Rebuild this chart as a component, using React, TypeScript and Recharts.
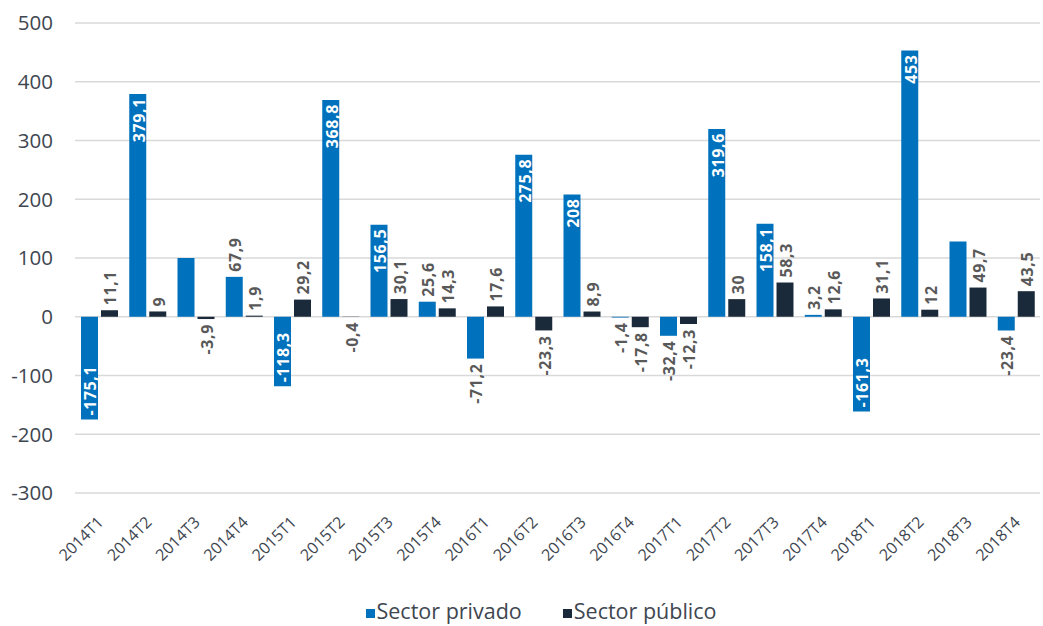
import React from 'react';
import { BarChart, Bar, XAxis, YAxis, CartesianGrid, Legend, LabelList } from 'recharts';

const categories = ['2014T1','2014T2','2014T3','2014T4','2015T1','2015T2','2015T3','2015T4','2016T1','2016T2','2016T3','2016T4','2017T1','2017T2','2017T3','2017T4','2018T1','2018T2','2018T3','2018T4'];
const privado = [-175.1, 379.1, 100, 67.9, -118.3, 368.8, 156.5, 25.6, -71.2, 275.8, 208, -1.4, -32.4, 319.6, 158.1, 3.2, -161.3, 453, 128, -23.4];
const publico = [11.1, 9, -3.9, 1.9, 29.2, -0.4, 30.1, 14.3, 17.6, -23.3, 8.9, -17.8, -12.3, 30, 58.3, 12.6, 31.1, 12, 49.7, 43.5];
const privadoLabels = ['-175,1','379,1','','67,9','-118,3','368,8','156,5','25,6','-71,2','275,8','208','-1,4','-32,4','319,6','158,1','3,2','-161,3','453','','-23,4'];
const publicoLabels = ['11,1','9','-3,9','1,9','29,2','-0,4','30,1','14,3','17,6','-23,3','8,9','-17,8','-12,3','30','58,3','12,6','31,1','12','49,7','43,5'];
const yTicks = [-300, -200, -100, 0, 100, 200, 300, 400, 500];

const data = categories.map((c, i) => ({ cat: c, privado: privado[i], publico: publico[i] }));

const BLUE = '#0071BC';
const NAVY = '#1B2A3A';
const LABEL_GRAY = '#595959';
const TICK = '#3E4650';
const FONT = '"Open Sans", sans-serif';

const makeLabel = (labels: string[], values: number[]) => (props: any) => {
  const { x, y, width, height, index } = props;
  const text = labels[index];
  if (!text) return null;
  const v = values[index];
  const top = Math.min(y, y + height);
  const bottom = Math.max(y, y + height);
  const cx = x + width / 2 + 1;
  const inside = Math.abs(v) > 100;
  let ay: number;
  let anchor: string;
  if (v >= 0) {
    if (inside) { ay = top + 4; anchor = 'end'; } else { ay = top - 5; anchor = 'start'; }
  } else {
    if (inside) { ay = bottom - 4; anchor = 'start'; } else { ay = bottom + 5; anchor = 'end'; }
  }
  return (
    <text
      x={cx}
      y={ay}
      transform={`rotate(-90 ${cx} ${ay})`}
      textAnchor={anchor as any}
      dominantBaseline="central"
      fill={inside ? '#FFFFFF' : LABEL_GRAY}
      fontSize={16}
      fontWeight={700}
      letterSpacing={0.6}
      fontFamily={FONT}
    >
      {text}
    </text>
  );
};

const XTick = (props: any) => {
  const { x, y, payload } = props;
  const tx = x + 1;
  const ty = y + 18;
  return (
    <text
      x={tx}
      y={ty}
      transform={`rotate(-45 ${tx} ${ty})`}
      textAnchor="end"
      dominantBaseline="central"
      fill={TICK}
      fontSize={16}
      fontFamily={FONT}
    >
      {payload.value}
    </text>
  );
};

const LegendContent = () => (
  <div style={{ display: 'flex', justifyContent: 'center', fontFamily: FONT, fontSize: 21.5, color: TICK, paddingLeft: 42 }}>
    <span style={{ display: 'flex', alignItems: 'center', marginRight: 41 }}>
      <span style={{ width: 9, height: 9, background: BLUE, display: 'inline-block', marginRight: 2, marginTop: 5 }} />
      Sector privado
    </span>
    <span style={{ display: 'flex', alignItems: 'center' }}>
      <span style={{ width: 9, height: 9, background: NAVY, display: 'inline-block', marginRight: 2, marginTop: 5 }} />
      Sector público
    </span>
  </div>
);

export default function App() {
  return (
    <div style={{ position: 'absolute', left: 0, top: 0, background: '#fff' }}>
      <BarChart
        width={1043}
        height={626}
        data={data}
        margin={{ top: 23, right: 3, left: 0, bottom: 0 }}
        barGap={3}
        barSize={17}
      >
        <CartesianGrid vertical={false} stroke="#D9D9D9" strokeWidth={1.5} />
        <XAxis
          dataKey="cat"
          axisLine={false}
          tickLine={false}
          interval={0}
          height={103}
          tick={<XTick />}
        />
        <YAxis
          domain={[-300, 500]}
          ticks={yTicks}
          axisLine={false}
          tickLine={false}
          width={75}
          tickMargin={16}
          tick={{ fill: TICK, fontSize: 20.5, fontFamily: FONT }}
        />
        <Legend verticalAlign="bottom" height={30} content={<LegendContent />} />
        <Bar dataKey="privado" fill={BLUE} isAnimationActive={false}>
          <LabelList dataKey="privado" content={makeLabel(privadoLabels, privado)} />
        </Bar>
        <Bar dataKey="publico" fill={NAVY} isAnimationActive={false}>
          <LabelList dataKey="publico" content={makeLabel(publicoLabels, publico)} />
        </Bar>
      </BarChart>
    </div>
  );
}
